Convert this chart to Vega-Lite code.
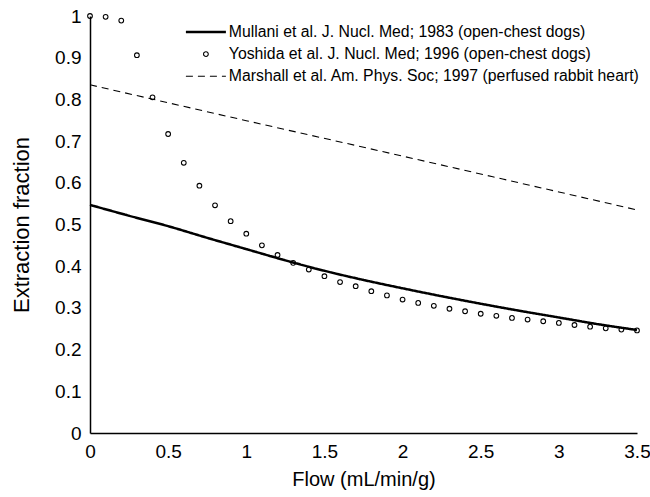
{
  "$schema": "https://vega.github.io/schema/vega-lite/v6.json",
  "width": 547,
  "height": 417,
  "autosize": "none",
  "padding": {"left": 90, "top": 16, "right": 13, "bottom": 64},
  "background": "white",
  "config": {
    "font": "Liberation Sans",
    "view": {"stroke": null},
    "axis": {
      "grid": false,
      "ticks": false,
      "domainColor": "black",
      "domainWidth": 1.5,
      "labelColor": "black",
      "labelFontSize": 19,
      "titleColor": "black",
      "titleFontSize": 20,
      "titleFontWeight": "normal"
    }
  },
  "data": {
    "values": [
      {"series": "Mullani", "flow": 0.0, "ef": 0.547},
      {"series": "Mullani", "flow": 0.25, "ef": 0.521},
      {"series": "Mullani", "flow": 0.5, "ef": 0.496},
      {"series": "Mullani", "flow": 0.75, "ef": 0.468},
      {"series": "Mullani", "flow": 1.0, "ef": 0.441},
      {"series": "Mullani", "flow": 1.25, "ef": 0.414},
      {"series": "Mullani", "flow": 1.5, "ef": 0.389},
      {"series": "Mullani", "flow": 1.75, "ef": 0.367},
      {"series": "Mullani", "flow": 2.0, "ef": 0.347},
      {"series": "Mullani", "flow": 2.25, "ef": 0.328},
      {"series": "Mullani", "flow": 2.5, "ef": 0.31},
      {"series": "Mullani", "flow": 2.75, "ef": 0.293},
      {"series": "Mullani", "flow": 3.0, "ef": 0.277},
      {"series": "Mullani", "flow": 3.25, "ef": 0.261},
      {"series": "Mullani", "flow": 3.5, "ef": 0.247},
      {"series": "Marshall", "flow": 0.0, "ef": 0.835},
      {"series": "Marshall", "flow": 1.0, "ef": 0.749},
      {"series": "Marshall", "flow": 2.0, "ef": 0.664},
      {"series": "Marshall", "flow": 3.0, "ef": 0.578},
      {"series": "Marshall", "flow": 3.5, "ef": 0.535},
      {"series": "Yoshida", "flow": 0.0, "ef": 1.0},
      {"series": "Yoshida", "flow": 0.1, "ef": 0.998},
      {"series": "Yoshida", "flow": 0.2, "ef": 0.989},
      {"series": "Yoshida", "flow": 0.3, "ef": 0.906},
      {"series": "Yoshida", "flow": 0.4, "ef": 0.805},
      {"series": "Yoshida", "flow": 0.5, "ef": 0.717},
      {"series": "Yoshida", "flow": 0.6, "ef": 0.648},
      {"series": "Yoshida", "flow": 0.7, "ef": 0.593},
      {"series": "Yoshida", "flow": 0.8, "ef": 0.546},
      {"series": "Yoshida", "flow": 0.9, "ef": 0.508},
      {"series": "Yoshida", "flow": 1.0, "ef": 0.478},
      {"series": "Yoshida", "flow": 1.1, "ef": 0.45},
      {"series": "Yoshida", "flow": 1.2, "ef": 0.427},
      {"series": "Yoshida", "flow": 1.3, "ef": 0.408},
      {"series": "Yoshida", "flow": 1.4, "ef": 0.392},
      {"series": "Yoshida", "flow": 1.5, "ef": 0.376},
      {"series": "Yoshida", "flow": 1.6, "ef": 0.362},
      {"series": "Yoshida", "flow": 1.7, "ef": 0.352},
      {"series": "Yoshida", "flow": 1.8, "ef": 0.34},
      {"series": "Yoshida", "flow": 1.9, "ef": 0.33},
      {"series": "Yoshida", "flow": 2.0, "ef": 0.32},
      {"series": "Yoshida", "flow": 2.1, "ef": 0.312},
      {"series": "Yoshida", "flow": 2.2, "ef": 0.305},
      {"series": "Yoshida", "flow": 2.3, "ef": 0.298},
      {"series": "Yoshida", "flow": 2.4, "ef": 0.292},
      {"series": "Yoshida", "flow": 2.5, "ef": 0.286},
      {"series": "Yoshida", "flow": 2.6, "ef": 0.281},
      {"series": "Yoshida", "flow": 2.7, "ef": 0.276},
      {"series": "Yoshida", "flow": 2.8, "ef": 0.272},
      {"series": "Yoshida", "flow": 2.9, "ef": 0.268},
      {"series": "Yoshida", "flow": 3.0, "ef": 0.264},
      {"series": "Yoshida", "flow": 3.1, "ef": 0.259},
      {"series": "Yoshida", "flow": 3.2, "ef": 0.255},
      {"series": "Yoshida", "flow": 3.3, "ef": 0.251},
      {"series": "Yoshida", "flow": 3.4, "ef": 0.248},
      {"series": "Yoshida", "flow": 3.5, "ef": 0.246}
    ]
  },
  "encoding": {
    "x": {
      "field": "flow",
      "type": "quantitative",
      "title": "Flow (mL/min/g)",
      "scale": {"domain": [0, 3.5], "nice": false, "zero": false},
      "axis": {"values": [0, 0.5, 1, 1.5, 2, 2.5, 3, 3.5], "format": "~g", "labelPadding": 9, "titlePadding": 8, "titleFontSize": 20, "labelFlush": false}
    },
    "y": {
      "field": "ef",
      "type": "quantitative",
      "title": "Extraction fraction",
      "scale": {"domain": [0, 1], "nice": false},
      "axis": {"values": [0, 0.1, 0.2, 0.3, 0.4, 0.5, 0.6, 0.7, 0.8, 0.9, 1], "format": "~g", "labelPadding": 9, "titlePadding": 21, "titleFontSize": 22, "labelFlush": false}
    },
    "color": {
      "field": "series",
      "type": "nominal",
      "scale": {"domain": ["Mullani", "Yoshida", "Marshall"], "range": ["black", "black", "black"]},
      "legend": {
        "title": null,
        "orient": "none",
        "legendX": 108,
        "legendY": 8,
        "symbolType": "stroke",
        "symbolSize": 1600,
        "symbolStrokeWidth": 1.2,
        "labelFontSize": 15.8,
        "labelColor": "black",
        "labelLimit": 0,
        "labelOffset": 15,
        "rowPadding": 5.2,
        "labelExpr": "datum.label === 'Mullani' ? 'Mullani et al. J. Nucl. Med; 1983 (open-chest dogs)' : datum.label === 'Yoshida' ? 'Yoshida et al. J. Nucl. Med; 1996 (open-chest dogs)' : 'Marshall et al. Am. Phys. Soc; 1997 (perfused rabbit heart)'",
        "encode": {
          "symbols": {
            "update": {
              "shape": {"signal": "datum.value === 'Yoshida' ? 'circle' : 'stroke'"},
              "size": {"signal": "datum.value === 'Yoshida' ? 22 : 1600"},
              "strokeDash": {"signal": "datum.value === 'Marshall' ? [7, 5] : [1, 0]"},
              "strokeWidth": {"signal": "datum.value === 'Mullani' ? 2.5 : 1.1"},
              "stroke": {"value": "black"},
              "fill": {"value": "transparent"},
              "opacity": {"value": 1}
            }
          }
        }
      }
    }
  },
  "layer": [
    {
      "transform": [{"filter": "datum.series !== 'Yoshida'"}],
      "mark": {"type": "line", "interpolate": "monotone"},
      "encoding": {
        "strokeDash": {
          "field": "series",
          "type": "nominal",
          "scale": {"domain": ["Mullani", "Marshall"], "range": [[1, 0], [7, 5]]},
          "legend": null
        },
        "strokeWidth": {
          "field": "series",
          "type": "nominal",
          "scale": {"domain": ["Mullani", "Marshall"], "range": [2.5, 1.1]},
          "legend": null
        }
      }
    },
    {
      "transform": [{"filter": "datum.series === 'Yoshida'"}],
      "mark": {"type": "point", "shape": "circle", "filled": false, "size": 22, "strokeWidth": 1.1, "opacity": 1}
    }
  ]
}
